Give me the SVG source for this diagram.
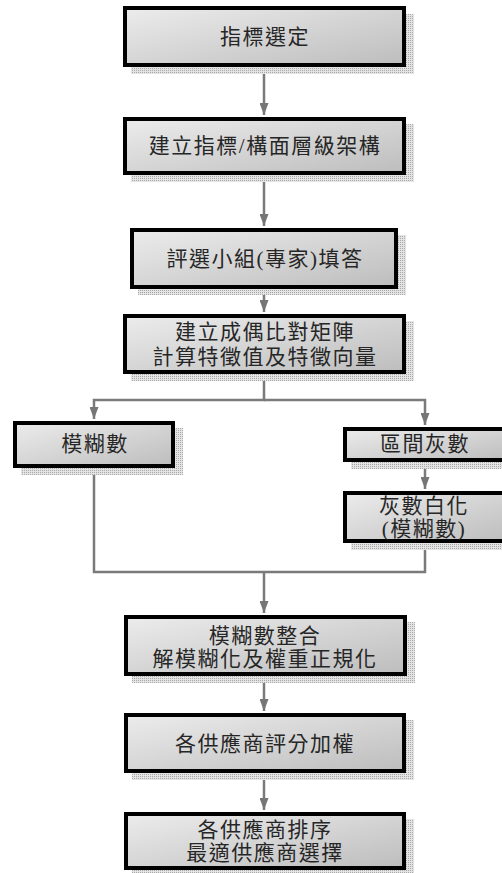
<svg xmlns="http://www.w3.org/2000/svg" width="502" height="873" viewBox="0 0 502 873">
<defs>
<linearGradient id="g" x1="0" y1="0" x2="1" y2="1">
<stop offset="0" stop-color="#ececec"/>
<stop offset="1" stop-color="#bdbdbd"/>
</linearGradient>
<pattern id="hatch" width="2" height="2" patternUnits="userSpaceOnUse">
<rect width="2" height="2" fill="#e4e4e4"/>
<rect width="1" height="1" fill="#a8a8a8"/>
</pattern>
<marker id="arr" viewBox="0 0 12 9" refX="12" refY="4.5" markerWidth="12" markerHeight="9" markerUnits="userSpaceOnUse" orient="auto">
<path d="M0,0 L12,4.5 L0,9 Z" fill="#767676"/>
</marker>
<style>
.box{fill:url(#g);stroke:#000;stroke-width:4;}
.sh{fill:url(#hatch);}
.t{font-family:"Liberation Serif","Noto Sans CJK TC",serif;font-size:21px;letter-spacing:1.5px;fill:#262626;text-anchor:middle;dominant-baseline:central;}
.c{fill:none;stroke:#7a7a7a;stroke-width:2.5;}
</style>
</defs>
<g id="connectors">
<path class="c" d="M264,67 V115" marker-end="url(#arr)"/>
<path class="c" d="M264,175 V226" marker-end="url(#arr)"/>
<path class="c" d="M264,289 V312" marker-end="url(#arr)"/>
<path class="c" d="M264,374 V400 H94 V419" marker-end="url(#arr)"/>
<path class="c" d="M264,400 H425 V425" marker-end="url(#arr)"/>
<path class="c" d="M425,462 V489" marker-end="url(#arr)"/>
<path class="c" d="M94,468 V572 H425 V543"/>
<path class="c" d="M264,572 V613" marker-end="url(#arr)"/>
<path class="c" d="M264,676 V711" marker-end="url(#arr)"/>
<path class="c" d="M264,773 V810" marker-end="url(#arr)"/>
</g>
<g id="n1">
<rect class="sh" x="131" y="14" width="283" height="60"/>
<rect class="box" x="125" y="8" width="279" height="57"/>
<text class="t" x="265" y="37">指標選定</text>
</g>
<g id="n2">
<rect class="sh" x="131" y="124" width="283" height="58"/>
<rect class="box" x="125" y="119" width="279" height="54"/>
<text class="t" x="265" y="146">建立指標/構面層級架構</text>
</g>
<g id="n3">
<rect class="sh" x="138" y="235" width="268" height="60"/>
<rect class="box" x="132" y="230" width="264" height="57"/>
<text class="t" x="265" y="259">評選小組(專家)填答</text>
</g>
<g id="n4">
<rect class="sh" x="131" y="321" width="283" height="60"/>
<rect class="box" x="125" y="316" width="279" height="56"/>
<text class="t" x="265" y="332">建立成偶比對矩陣</text>
<text class="t" x="265" y="357">計算特徵值及特徵向量</text>
</g>
<g id="n5">
<rect class="sh" x="21" y="428" width="162" height="47"/>
<rect class="box" x="15" y="423" width="158" height="43"/>
<text class="t" x="95" y="444">模糊數</text>
</g>
<g id="n6">
<rect class="sh" x="351" y="434" width="160" height="35"/>
<rect class="box" x="345" y="429" width="162" height="31"/>
<text class="t" x="425" y="444">區間灰數</text>
</g>
<g id="n7">
<rect class="sh" x="351" y="498" width="160" height="52"/>
<rect class="box" x="345" y="493" width="162" height="48"/>
<text class="t" x="424" y="506">灰數白化</text>
<text class="t" x="424" y="529">(模糊數)</text>
</g>
<g id="n8">
<rect class="sh" x="132" y="622" width="283" height="61"/>
<rect class="box" x="126" y="617" width="279" height="57"/>
<text class="t" x="265" y="636">模糊數整合</text>
<text class="t" x="265" y="659">解模糊化及權重正規化</text>
</g>
<g id="n9">
<rect class="sh" x="132" y="720" width="282" height="60"/>
<rect class="box" x="126" y="715" width="278" height="56"/>
<text class="t" x="265" y="744">各供應商評分加權</text>
</g>
<g id="n10">
<rect class="sh" x="132" y="819" width="282" height="58"/>
<rect class="box" x="126" y="814" width="278" height="54"/>
<text class="t" x="265" y="830">各供應商排序</text>
<text class="t" x="265" y="853">最適供應商選擇</text>
</g>
</svg>
